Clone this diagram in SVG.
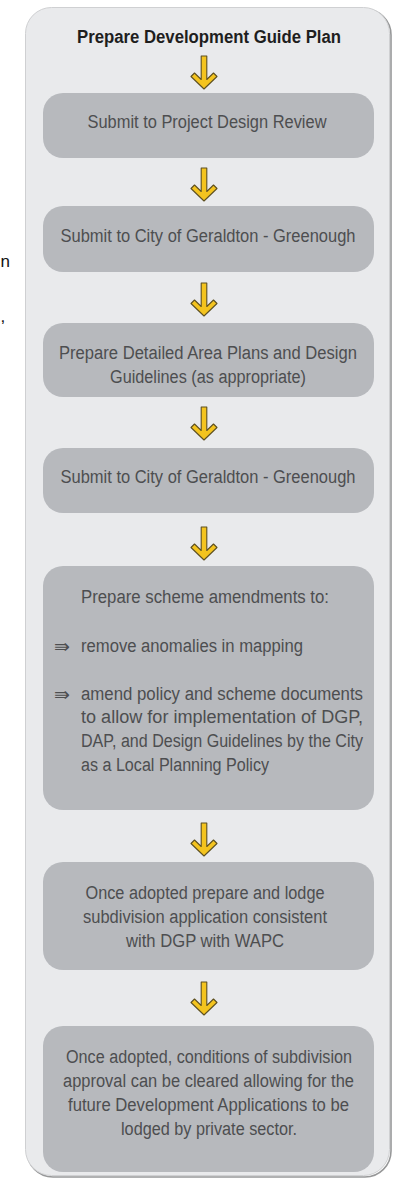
<svg xmlns="http://www.w3.org/2000/svg" width="398" height="1179" viewBox="0 0 398 1179">
  <style>
    .title { font-family: "Liberation Sans", Arial, sans-serif; font-size: 17.5px; font-weight: bold; fill: #1e1e1e; text-anchor: middle; }
    .body { font-family: "Liberation Sans", Arial, sans-serif; font-size: 18px; fill: #4d4e50; }
    .mid { text-anchor: middle; }
    .box { fill: #b7b9bd; }
    .bullet { font-family: "DejaVu Sans", sans-serif; font-size: 19px; fill: #4d4e50; }
    .edge { font-family: "Liberation Sans", Arial, sans-serif; font-size: 17px; fill: #111; }
  </style>
  <defs>
    <!-- yellow down arrow: shaft with chevron head, origin at top centre -->
    <path id="down" d="M-2.8,0 L2.8,0 L2.8,23.5 L9.5,17 L13,20.5 L0,33 L-13,20.5 L-9.5,17 L-2.8,23.5 Z" fill="#f4c41f" stroke="#5e5020" stroke-width="1.1" stroke-linejoin="round"/>
  </defs>

  <!-- text at the left margin -->
  <text class="edge" x="0.5" y="267">n</text>
  <text class="edge" x="0.5" y="322">,</text>

  <!-- outer panel with right/bottom shadow -->
  <rect x="27" y="9" width="364" height="1168" rx="26" fill="none" stroke="#979899" stroke-width="1.6"/>
  <rect x="25.5" y="7.5" width="364" height="1168" rx="26" fill="#e9eaec" stroke="#cfd0d2" stroke-width="1"/>

  <g id="title">
    <text class="title" x="209" y="43" textLength="264" lengthAdjust="spacingAndGlyphs">Prepare Development Guide Plan</text>
  </g>

  <g id="connectors">
    <use href="#down" x="204" y="56"/>
    <use href="#down" x="204" y="168"/>
    <use href="#down" x="204" y="283"/>
    <use href="#down" x="204" y="407"/>
    <use href="#down" x="204" y="527"/>
    <use href="#down" x="204" y="823"/>
    <use href="#down" x="204" y="982"/>
  </g>

  <g id="step1">
    <rect class="box" x="43" y="93" width="331" height="65" rx="20"/>
    <text class="body mid" x="207" y="128" textLength="239" lengthAdjust="spacingAndGlyphs">Submit to Project Design Review</text>
  </g>

  <g id="step2">
    <rect class="box" x="43" y="206" width="331" height="66" rx="20"/>
    <text class="body mid" x="208" y="242" textLength="295" lengthAdjust="spacingAndGlyphs">Submit to City of Geraldton - Greenough</text>
  </g>

  <g id="step3">
    <rect class="box" x="43" y="323" width="331" height="74" rx="20"/>
    <text class="body mid" x="208" y="359" textLength="298" lengthAdjust="spacingAndGlyphs">Prepare Detailed Area Plans and Design</text>
    <text class="body mid" x="208" y="383" textLength="196" lengthAdjust="spacingAndGlyphs">Guidelines (as appropriate)</text>
  </g>

  <g id="step4">
    <rect class="box" x="43" y="448" width="331" height="65" rx="20"/>
    <text class="body mid" x="208" y="483" textLength="295" lengthAdjust="spacingAndGlyphs">Submit to City of Geraldton - Greenough</text>
  </g>

  <g id="step5">
    <rect class="box" x="43" y="566" width="331" height="244" rx="20"/>
    <text class="body" x="81" y="603" textLength="248" lengthAdjust="spacingAndGlyphs">Prepare scheme amendments to:</text>
    <text class="bullet" x="54" y="653">⇛</text>
    <text class="body" x="81" y="652" textLength="222" lengthAdjust="spacingAndGlyphs">remove anomalies in mapping</text>
    <text class="bullet" x="54" y="701">⇛</text>
    <text class="body" x="81" y="700" textLength="282" lengthAdjust="spacingAndGlyphs">amend policy and scheme documents</text>
    <text class="body" x="81" y="723" textLength="282" lengthAdjust="spacingAndGlyphs">to allow for implementation of DGP,</text>
    <text class="body" x="81" y="747" textLength="282" lengthAdjust="spacingAndGlyphs">DAP, and Design Guidelines by the City</text>
    <text class="body" x="81" y="771" textLength="188" lengthAdjust="spacingAndGlyphs">as a Local Planning Policy</text>
  </g>

  <g id="step6">
    <rect class="box" x="43" y="862" width="331" height="108" rx="20"/>
    <text class="body mid" x="205" y="899" textLength="239" lengthAdjust="spacingAndGlyphs">Once adopted prepare and lodge</text>
    <text class="body mid" x="205" y="923" textLength="244" lengthAdjust="spacingAndGlyphs">subdivision application consistent</text>
    <text class="body mid" x="205" y="947" textLength="158" lengthAdjust="spacingAndGlyphs">with DGP with WAPC</text>
  </g>

  <g id="step7">
    <rect class="box" x="43" y="1026" width="331" height="146" rx="20"/>
    <text class="body mid" x="209" y="1063" textLength="286" lengthAdjust="spacingAndGlyphs">Once adopted, conditions of subdivision</text>
    <text class="body mid" x="208.5" y="1087" textLength="291" lengthAdjust="spacingAndGlyphs">approval can be cleared allowing for the</text>
    <text class="body mid" x="208.5" y="1111" textLength="281" lengthAdjust="spacingAndGlyphs">future Development Applications to be</text>
    <text class="body mid" x="209" y="1135" textLength="176" lengthAdjust="spacingAndGlyphs">lodged by private sector.</text>
  </g>
</svg>
